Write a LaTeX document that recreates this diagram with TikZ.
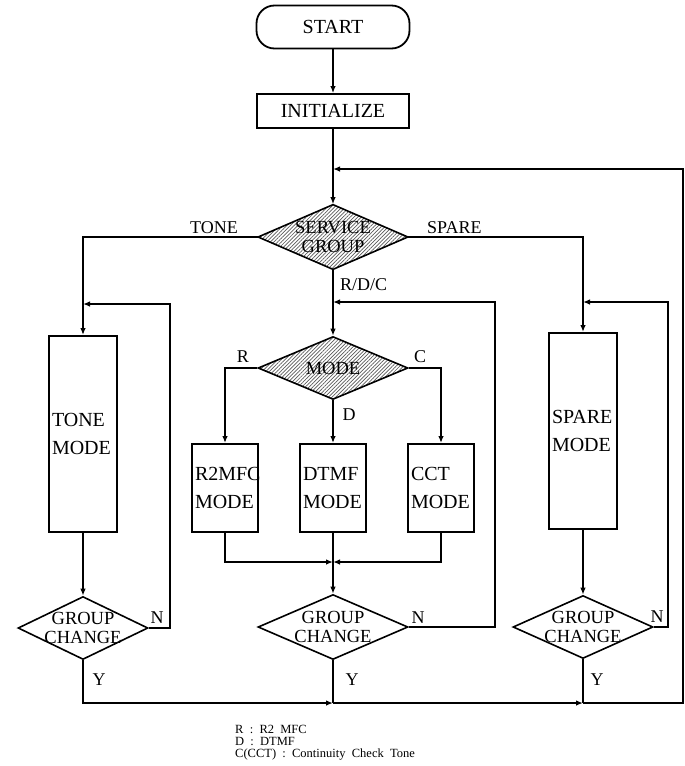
\documentclass[tikz,border=0pt]{standalone}
\usepackage{fontspec}
\setmainfont{Liberation Serif}
\usetikzlibrary{shapes.geometric,arrows.meta,patterns.meta}
\begin{document}
\begin{tikzpicture}[x=1pt,y=-1pt,
  conn/.style={line width=1.3pt},
  arr/.style={conn,-{Latex[length=7pt,width=5.5pt]}},
  box/.style={draw,line width=2pt,rectangle,inner xsep=3pt,inner ysep=0pt,align=left,
              font=\fontsize{20}{28}\selectfont},
  dia/.style={draw,diamond,line width=1.6pt,inner sep=0pt},
  hatch/.style={pattern={Lines[angle=45,distance=2.6pt,line width=0.7pt]},pattern color=black!65},
  dtext/.style={align=center,inner sep=0pt,font=\fontsize{18.5}{18.5}\selectfont},
  lbl/.style={inner sep=0pt,font=\fontsize{18}{18}\selectfont}]
\useasboundingbox (0,0) rectangle (685,766);

% nodes
\node[draw,line width=1.8pt,rounded corners=18pt,minimum width=153pt,minimum height=43pt,
      font=\fontsize{20}{20}\selectfont] (start) at (333,27) {START};
\node[draw,line width=1.8pt,minimum width=152pt,minimum height=34pt,
      font=\fontsize{20}{20}\selectfont] (init) at (333,111) {INITIALIZE};
\node[dia,hatch,minimum width=150pt,minimum height=65pt,
      label={[dtext]center:SERVICE\\GROUP}] (sg) at (333,237) {};
\node[dia,hatch,minimum width=150pt,minimum height=63pt,
      label={[dtext]center:MODE}] (mode) at (333,368) {};

\node[box,text width=62pt,minimum height=196pt] (tone) at (83,434) {TONE\\MODE};
\node[box,text width=62pt,minimum height=196pt] (spare) at (583,431) {SPARE\\MODE};
\node[box,text width=60pt,minimum height=88pt] (r2) at (225,488) {R2MFC\\MODE};
\node[box,text width=60pt,minimum height=88pt] (dtmf) at (333,488) {DTMF\\MODE};
\node[box,text width=60pt,minimum height=88pt] (cct) at (441,488) {CCT\\MODE};

\node[dia,minimum width=130pt,minimum height=63pt,
      label={[dtext]center:GROUP\\CHANGE}] (gcl) at (83,628) {};
\node[dia,minimum width=150pt,minimum height=65pt,
      label={[dtext]center:GROUP\\CHANGE}] (gcm) at (333,627) {};
\node[dia,minimum width=140pt,minimum height=63pt,
      label={[dtext]center:GROUP\\CHANGE}] (gcr) at (583,627) {};

% junction coordinates
\coordinate (jt) at (333,169);
\coordinate (tr) at (683,169);
\coordinate (jl) at (83,304);
\coordinate (nl) at (170,304);
\coordinate (jm) at (333,302);
\coordinate (nm) at (495,302);
\coordinate (jr) at (583,302);
\coordinate (nr) at (668,302);
\coordinate (jb) at (333,562);
\coordinate (bm) at (333,703);
\coordinate (br) at (583,703);

% connectors
\draw[arr] (start.south) -- (init.north);
\draw[arr] (init.south) -- (sg.north);
\draw[arr] (sg.west) -| (tone.north);
\draw[arr] (sg.east) -| (spare.north);
\draw[arr] (sg.south) -- (mode.north);
\draw[arr] (mode.west) -| (r2.north);
\draw[arr] (mode.east) -| (cct.north);
\draw[arr] (mode.south) -- (dtmf.north);
\draw[arr] (r2.south) |- (jb);
\draw[arr] (cct.south) |- (jb);
\draw[arr] (dtmf.south) -- (gcm.north);
\draw[arr] (tone.south) -- (gcl.north);
\draw[arr] (spare.south) -- (gcr.north);

\draw[arr] (gcl.east) -| (nl) -- (jl);
\draw[arr] (gcm.east) -| (nm) -- (jm);
\draw[arr] (gcr.east) -| (nr) -- (jr);

\draw[arr] (gcl.south) |- (bm);
\draw[conn] (gcm.south) -- (bm);
\draw[arr] (bm) -- (br);
\draw[conn] (gcr.south) -- (br);
\draw[arr] (br) -| (tr) -- (jt);

% branch labels
\node[lbl,anchor=base east] (ltone) at (238,233) {TONE};
\node[lbl,anchor=base west] (lspare) at (427,233) {SPARE};
\node[lbl,anchor=west] (lrdc) at (340,285) {R/D/C};
\node[lbl] (lr) at (243,357) {R};
\node[lbl] (lc) at (420,357) {C};
\node[lbl] (ld) at (349,415) {D};
\node[lbl] (nl1) at (157,618) {N};
\node[lbl] (nm1) at (418,618) {N};
\node[lbl] (nr1) at (657,617) {N};
\node[lbl] (yl) at (99,680) {Y};
\node[lbl] (ym) at (352,680) {Y};
\node[lbl] (yr) at (597,680) {Y};

% legend
\node[anchor=north west,align=left,inner sep=0pt,font=\fontsize{12.5}{12}\selectfont] (legend) at (235,725)
  {R\ \ :\ \ R2\ \ MFC\\D\ \ :\ \ DTMF\\C(CCT)\ \ :\ \ Continuity\ \ Check\ \ Tone};
\end{tikzpicture}
\end{document}
